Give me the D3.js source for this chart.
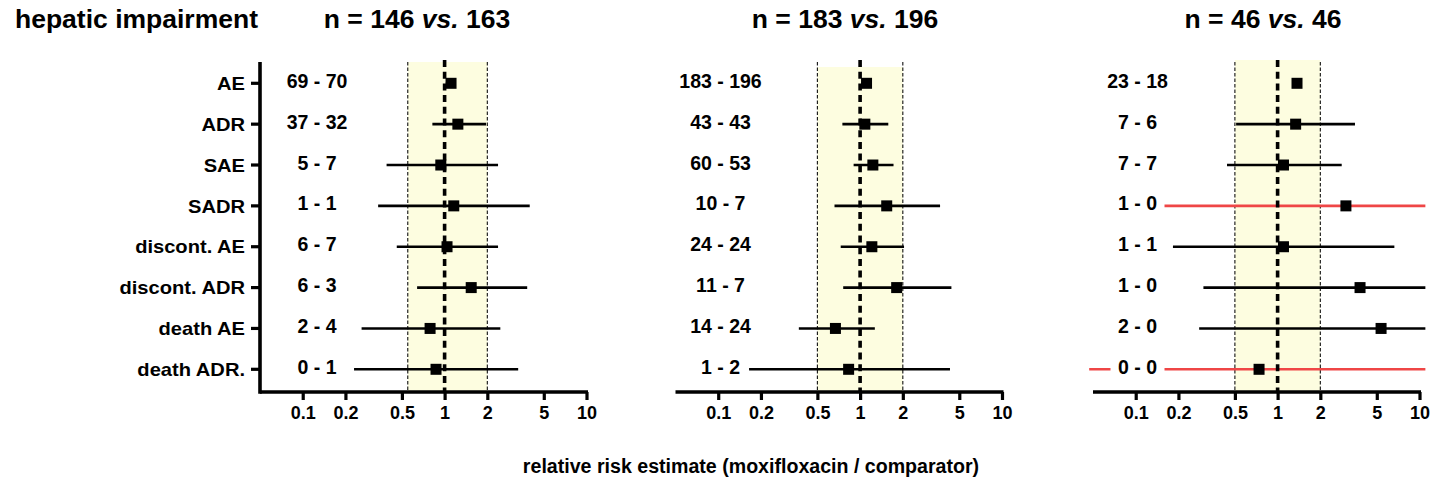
<!DOCTYPE html>
<html><head><meta charset="utf-8">
<script src="https://cdn.jsdelivr.net/npm/d3@7"></script>
<style>
html,body{margin:0;padding:0;background:#fff;}
text{font-family:"Liberation Sans",Arial,sans-serif;font-weight:bold;fill:#000;}
</style></head>
<body><svg id="chart" width="1437" height="482"></svg>
<script>
// ---- data ----
const categories = ["AE","ADR","SAE","SADR","discont. AE","discont. ADR","death AE","death ADR."];
const tickValues = [0.1,0.2,0.5,1,2,5,10];
const groupN = [["146","163"],["183","196"],["46","46"]];
const counts1 = ["69 - 70","37 - 32","5 - 7","1 - 1","6 - 7","6 - 3","2 - 4","0 - 1"];
const counts2 = ["183 - 196","43 - 43","60 - 53","10 - 7","24 - 24","11 - 7","14 - 24","1 - 2"];
const counts3 = ["23 - 18","7 - 6","7 - 7","1 - 0","1 - 1","1 - 0","2 - 0","0 - 0"];
const rr1 = [1.11,1.24,0.94,1.16,1.04,1.54,0.79,0.87];
const lo1 = [1.02,0.82,0.39,0.34,0.46,0.64,0.26,0.23];
const hi1 = [1.20,1.96,2.38,3.98,2.38,3.82,2.47,3.30];
const rr2 = [1.11,1.08,1.23,1.54,1.21,1.81,0.67,0.83];
const lo2 = [1.02,0.75,0.90,0.66,0.73,0.76,0.37,0.165];
const hi2 = [1.20,1.58,1.72,3.66,2.04,4.40,1.27,4.30];
const rr3 = [1.37,1.34,1.10,3.03,1.10,3.81,5.36,0.74];
const lo3 = [1.28,0.51,0.44,0.12,0.183,0.30,0.28,0.047];
const hi3 = [1.46,3.51,2.83,11,6.65,11,11,11];
const undefinedCI1 = [false,false,false,false,false,false,false,false];
const undefinedCI2 = [false,false,false,false,false,false,false,false];
const undefinedCI3 = [false,false,false,true,false,false,false,true];
const bandLow = [0.55,0.5,0.5];
const bandHigh = [2,2,2];
const xDomain = [0.05,10];

// ---- layout ----
const panelX0 = [260,675.5,1093];
const panelW = 326.5;
const axisY = 392;
const topY = 62;
const bandTop = [62,67,60];
const countCx = [317,720.5,1137.5];
const titleCx = [417,845,1263];

const svg = d3.select("#chart");
const y = d3.scalePoint().domain(categories).range([83.3,369.3]);

const panels = [
  {counts:counts1, rr:rr1, lo:lo1, hi:hi1, und:undefinedCI1},
  {counts:counts2, rr:rr2, lo:lo2, hi:hi2, und:undefinedCI2},
  {counts:counts3, rr:rr3, lo:lo3, hi:hi3, und:undefinedCI3}
];

svg.append("text").attr("x",15).attr("y",28).style("font-size","26.5px").text("hepatic impairment");

panels.forEach((p,pi)=>{
  const x = d3.scaleLog().domain(xDomain).range([panelX0[pi], panelX0[pi]+panelW]);
  const g = svg.append("g");
  const rows = categories.map((c,i)=>({cat:c, count:p.counts[i], rr:p.rr[i], lo:p.lo[i], hi:p.hi[i], und:p.und[i]}));

  // band
  g.append("rect").attr("x",x(bandLow[pi])).attr("y",bandTop[pi])
    .attr("width",x(bandHigh[pi])-x(bandLow[pi])).attr("height",axisY-bandTop[pi])
    .attr("fill","#fdfde0");
  [bandLow[pi],bandHigh[pi]].forEach(v=>{
    g.append("line").attr("x1",x(v)).attr("x2",x(v)).attr("y1",topY).attr("y2",axisY)
      .attr("stroke","#111").attr("stroke-width",1.1).attr("stroke-dasharray","3.5,2");
  });

  // CI lines
  g.selectAll(".ci").data(rows).join("line")
    .attr("x1",d=>x(d.lo)).attr("x2",d=>x(d.hi))
    .attr("y1",d=>y(d.cat)).attr("y2",d=>y(d.cat))
    .attr("stroke",d=>d.und?"#ef4646":"#000").attr("stroke-width",2.6);

  // count labels with white background
  const lab = g.selectAll(".cnt").data(rows).join("g")
    .attr("transform",d=>`translate(${countCx[pi]},${y(d.cat)-2.5})`);
  lab.append("rect").attr("x",d=>-(d.count.length*4.2)-6).attr("y",-11)
    .attr("width",d=>2*(d.count.length*4.2)+12).attr("height",22).attr("fill","#fff");
  lab.append("text").attr("text-anchor","middle").attr("dy","0.36em")
    .style("font-size","19.5px").text(d=>d.count);

  // reference line at 1
  g.append("line").attr("x1",x(1)).attr("x2",x(1)).attr("y1",60).attr("y2",axisY)
    .attr("stroke","#000").attr("stroke-width",3.6).attr("stroke-dasharray","7,4.7");

  // squares
  g.selectAll(".pt").data(rows).join("rect")
    .attr("x",d=>x(d.rr)-5.5).attr("y",d=>y(d.cat)-5.5)
    .attr("width",11).attr("height",11).attr("fill","#000");

  // x axis
  const ax = g.append("g").attr("transform",`translate(0,${axisY})`)
    .call(d3.axisBottom(x).tickValues(tickValues).tickFormat(d3.format("~g")).tickSize(8).tickPadding(6));
  ax.select(".domain").attr("d",`M${panelX0[pi]},0H${panelX0[pi]+panelW+1.5}`)
    .attr("stroke","#000").attr("stroke-width",3.6);
  ax.selectAll(".tick line").attr("stroke","#000").attr("stroke-width",3.2);
  ax.selectAll(".tick text").attr("fill","#000").style("font-size","18px")
    .style("font-family",'"Liberation Sans",Arial,sans-serif').style("font-weight","bold");

  // panel title
  const t = svg.append("text").attr("x",titleCx[pi]).attr("y",28).attr("text-anchor","middle").style("font-size","26.5px");
  t.append("tspan").text(`n = ${groupN[pi][0]} `);
  t.append("tspan").style("font-style","italic").text("vs.");
  t.append("tspan").text(` ${groupN[pi][1]}`);

  // y axis only on first panel
  if(pi===0){
    const yg = svg.append("g").attr("transform",`translate(${panelX0[0]},0)`);
    yg.append("line").attr("x1",0).attr("x2",0).attr("y1",topY).attr("y2",axisY+1.8)
      .attr("stroke","#000").attr("stroke-width",3.6);
    yg.selectAll(".yt").data(categories).join("line")
      .attr("x1",-9).attr("x2",0).attr("y1",d=>y(d)).attr("y2",d=>y(d))
      .attr("stroke","#000").attr("stroke-width",3.2);
    yg.selectAll(".yl").data(categories).join("text")
      .attr("transform",d=>`translate(-15,${y(d)+6.7}) scale(1.15,1)`)
      .attr("text-anchor","end").style("font-size","17.5px").text(d=>d);
  }
});

svg.append("text").attr("x",751).attr("y",473).attr("text-anchor","middle")
  .style("font-size","19.6px").text("relative risk estimate (moxifloxacin / comparator)");
</script></body></html>
